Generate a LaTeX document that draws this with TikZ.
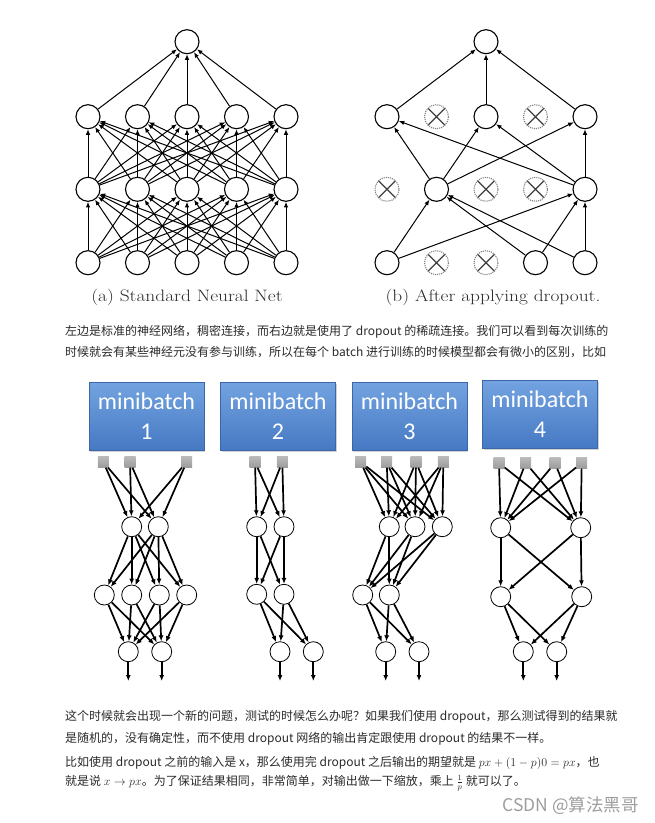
\documentclass[tikz,border=0pt]{standalone}
\usepackage{fontspec}
\usepackage{graphicx}
\usetikzlibrary{arrows.meta,shadows}
\newfontfamily\cjk{Noto Sans CJK SC}
\newfontfamily\calib{Carlito}
\definecolor{txt}{HTML}{2B2B2B}
\definecolor{mbtop}{HTML}{73A3E0}
\definecolor{mbbot}{HTML}{4679C4}
\definecolor{sqc}{HTML}{9C9C9C}
\begin{document}
\begin{tikzpicture}[x=1pt,y=-1pt,
  neuron/.style={circle,draw,line width=1.1pt,minimum size=24pt,inner sep=0pt,fill=white},
  dropn/.style={circle,draw=gray,densely dotted,line width=1.1pt,minimum size=24pt,inner sep=0pt,
    path picture={\draw[solid,black!75,line width=1.2pt]
      (path picture bounding box.north west) -- (path picture bounding box.south east)
      (path picture bounding box.north east) -- (path picture bounding box.south west);}},
  arr/.style={-{Latex[length=5.5pt,width=4.5pt]},line width=1pt},
  captxt/.style={font=\fontsize{16.5}{19}\selectfont,text=txt},
  mbox/.style={rectangle,minimum width=115pt,minimum height=68pt,inner sep=0pt,
    top color=mbtop,bottom color=mbbot,draw=mbbot!85!black,line width=0.3pt,
    drop shadow={shadow xshift=1pt,shadow yshift=-1.5pt,opacity=0.35},
    text=white,font=\calib\fontsize{24}{30}\selectfont,align=center},
  sq/.style={rectangle,minimum size=11pt,inner sep=0pt,top color=sqc!70,bottom color=sqc,draw=none},
  mn/.style={circle,draw,line width=0.8pt,minimum size=20pt,inner sep=0pt,fill=white},
  marr/.style={-{Latex[length=6pt,width=5pt]},line width=1.7pt},
  para/.style={anchor=base west,inner sep=0pt,text=txt,font=\cjk\fontsize{12}{14}\selectfont}
]
\fill[white] (0,0) rectangle (655,823);
\useasboundingbox (0,0) rectangle (655,823);

% ---------- (a) standard net ----------
\node[neuron] (aT) at (187,41.7) {};
\foreach \x [count=\i] in {88,137.5,187,236.5,286}{
  \node[neuron] (a2-\i) at (\x,116.7) {};
  \node[neuron] (a3-\i) at (\x,189.3) {};
  \node[neuron] (a4-\i) at (\x,262.7) {};
}
\foreach \i in {1,...,5}{
  \draw[arr] (a2-\i) -- (aT);
  \foreach \j in {1,...,5}{
    \draw[arr] (a4-\i) -- (a3-\j);
    \draw[arr] (a3-\i) -- (a2-\j);
  }
}
\node[captxt] (capa) at (187,297.7) {\scalebox{1.175}[1]{(a) Standard Neural Net}};

% ---------- (b) dropout ----------
\node[neuron] (bT) at (486,41.7) {};
\node[neuron] (b2-1) at (387,116.7) {};
\node[dropn]  (b2-2) at (436.5,116.7) {};
\node[neuron] (b2-3) at (486,116.7) {};
\node[dropn]  (b2-4) at (535.5,116.7) {};
\node[neuron] (b2-5) at (585,116.7) {};
\node[dropn]  (b3-1) at (387,189.3) {};
\node[neuron] (b3-2) at (436.5,189.3) {};
\node[dropn]  (b3-3) at (486,189.3) {};
\node[dropn]  (b3-4) at (535.5,189.3) {};
\node[neuron] (b3-5) at (585,189.3) {};
\node[neuron] (b4-1) at (387,262.7) {};
\node[dropn]  (b4-2) at (436.5,262.7) {};
\node[dropn]  (b4-3) at (486,262.7) {};
\node[neuron] (b4-4) at (535.5,262.7) {};
\node[neuron] (b4-5) at (585,262.7) {};
\foreach \i in {1,3,5}{
  \draw[arr] (b2-\i) -- (bT);
  \foreach \j in {2,5}{ \draw[arr] (b3-\j) -- (b2-\i); }
}
\foreach \i in {1,4,5}{
  \foreach \j in {2,5}{ \draw[arr] (b4-\i) -- (b3-\j); }
}
\node[captxt] (capb) at (493,297.7) {\scalebox{1.175}[1]{(b) After applying dropout.}};

% ---------- paragraph 1 ----------
\node[para] (t1) at (65,335.5) {左边是标准的神经网络，稠密连接，而右边就是使用了 dropout 的稀疏连接。我们可以看到每次训练的};
\node[para] (t2) at (65,356.5) {时候就会有某些神经元没有参与训练，所以在每个 batch 进行训练的时候模型都会有微小的区别，比如};

% ---------- minibatch boxes ----------
\node[mbox] (mb1) at (146.5,416) {minibatch\\1};
\node[mbox] (mb2) at (278,416) {minibatch\\2};
\node[mbox] (mb3) at (409.5,416) {minibatch\\3};
\node[mbox] (mb4) at (540,414) {minibatch\\4};

% net 1
\foreach \x [count=\i] in {103.3,130,186.7}{ \node[sq] (s1-\i) at (\x,462) {}; }
\foreach \x [count=\i] in {131.7,158.3}{ \node[mn] (p1-\i) at (\x,526.7) {}; }
\foreach \x [count=\i] in {104.3,131.7,159.3,186.7}{ \node[mn] (q1-\i) at (\x,595) {}; }
\foreach \x [count=\i] in {128.3,161.7}{ \node[mn] (r1-\i) at (\x,651.7) {}; \coordinate (o1-\i) at (\x,681); }
\foreach \i in {1,2,3}{ \foreach \j in {1,2}{ \draw[marr] (s1-\i) -- (p1-\j); } }
\foreach \i in {1,2}{ \foreach \j in {1,...,4}{ \draw[marr] (p1-\i) -- (q1-\j); } }
\foreach \i in {1,...,4}{ \foreach \j in {1,2}{ \draw[marr] (q1-\i) -- (r1-\j); } }
\foreach \i in {1,2}{ \draw[marr] (r1-\i) -- (o1-\i); }

% net 2
\foreach \x [count=\i] in {255,282.3}{ \node[sq] (s2-\i) at (\x,462) {}; }
\foreach \x [count=\i] in {256.7,284}{ \node[mn] (p2-\i) at (\x,526.7) {}; }
\foreach \x [count=\i] in {256.7,284}{ \node[mn] (q2-\i) at (\x,594.3) {}; }
\foreach \x [count=\i] in {280,313.3}{ \node[mn] (r2-\i) at (\x,651.7) {}; \coordinate (o2-\i) at (\x,681); }
\foreach \i in {1,2}{ \foreach \j in {1,2}{
  \draw[marr] (s2-\i) -- (p2-\j);
  \draw[marr] (p2-\i) -- (q2-\j);
  \draw[marr] (q2-\i) -- (r2-\j); } }
\foreach \i in {1,2}{ \draw[marr] (r2-\i) -- (o2-\i); }

% net 3
\foreach \x [count=\i] in {360.7,386.7,416,443.3}{ \node[sq] (s3-\i) at (\x,462) {}; }
\foreach \x [count=\i] in {389.3,415,442.3}{ \node[mn] (p3-\i) at (\x,526.7) {}; }
\foreach \x [count=\i] in {362.7,389.3}{ \node[mn] (q3-\i) at (\x,595) {}; }
\foreach \x [count=\i] in {385.7,419}{ \node[mn] (r3-\i) at (\x,651.7) {}; \coordinate (o3-\i) at (\x,681); }
\foreach \i in {1,...,4}{ \foreach \j in {1,2,3}{ \draw[marr] (s3-\i) -- (p3-\j); } }
\foreach \i in {1,2,3}{ \foreach \j in {1,2}{ \draw[marr] (p3-\i) -- (q3-\j); } }
\foreach \i in {1,2}{ \foreach \j in {1,2}{ \draw[marr] (q3-\i) -- (r3-\j); } }
\foreach \i in {1,2}{ \draw[marr] (r3-\i) -- (o3-\i); }

% net 4
\foreach \x [count=\i] in {499,525.7,555,581.7}{ \node[sq] (s4-\i) at (\x,463) {}; }
\foreach \x [count=\i] in {500.7,580.7}{ \node[mn] (p4-\i) at (\x,527.7) {}; }
\foreach \x [count=\i] in {500.7,581.7}{ \node[mn] (q4-\i) at (\x,596.7) {}; }
\foreach \x [count=\i] in {523.3,556.7}{ \node[mn] (r4-\i) at (\x,651.7) {}; \coordinate (o4-\i) at (\x,681); }
\foreach \i in {1,...,4}{ \foreach \j in {1,2}{ \draw[marr] (s4-\i) -- (p4-\j); } }
\foreach \i in {1,2}{ \foreach \j in {1,2}{
  \draw[marr] (p4-\i) -- (q4-\j);
  \draw[marr] (q4-\i) -- (r4-\j); } }
\foreach \i in {1,2}{ \draw[marr] (r4-\i) -- (o4-\i); }

% ---------- paragraphs 2,3 ----------
\node[para] (t3) at (65,720.5) {这个时候就会出现一个新的问题，测试的时候怎么办呢？如果我们使用 dropout，那么测试得到的结果就};
\node[para] (t4) at (65,742.5) {是随机的，没有确定性，而不使用 dropout 网络的输出肯定跟使用 dropout 的结果不一样。};
\node[para] (t5) at (65,766) {比如使用 dropout 之前的输入是 x，那么使用完 dropout 之后输出的期望就是 $px+(1-p)0=px$，也};
\node[para] (t6) at (65,785.5) {就是说 $x\to px$。为了保证结果相同，非常简单，对输出做一下缩放，乘上 \smash{$\frac{1}{p}$} 就可以了。};
\node[anchor=base east,inner sep=0pt,text=black!38,font=\cjk\fontsize{17.5}{20}\selectfont] (wm) at (639,811) {CSDN @算法黑哥};
\end{tikzpicture}
\end{document}
